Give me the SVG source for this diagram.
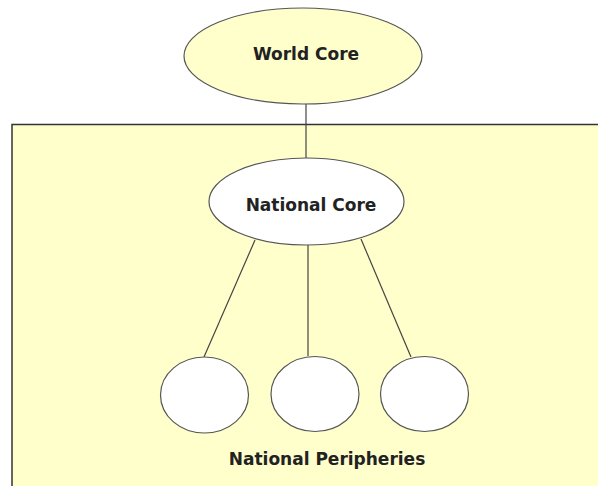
<svg xmlns="http://www.w3.org/2000/svg" width="598" height="486" viewBox="0 0 598 486">
<style>
.n{stroke:#555;stroke-width:1.2}
.w{fill:#fff}
.y{fill:#ffffcc}
.c{stroke:#444;stroke-width:1.2;fill:none}
text{font-family:"DejaVu Sans",Verdana,sans-serif;font-weight:bold;font-size:17px;fill:#222;text-anchor:middle}
</style>
<rect width="598" height="486" fill="#fff"/>
<g id="country">
<rect x="12" y="124.5" width="600" height="380" fill="#ffffcc" stroke="#333" stroke-width="1.5"/>
<text x="327" y="465">National Peripheries</text>
</g>
<g id="connectors">
<line class="c" x1="306" y1="104" x2="306" y2="158"/>
<line class="c" x1="255" y1="240" x2="204" y2="357"/>
<line class="c" x1="308" y1="245" x2="308" y2="356"/>
<line class="c" x1="361" y1="239" x2="411" y2="357"/>
</g>
<g id="world-core">
<ellipse class="n y" cx="303" cy="56" rx="119" ry="48"/>
<text x="306" y="60">World Core</text>
</g>
<g id="national-core">
<ellipse class="n w" cx="306.5" cy="201.5" rx="97.5" ry="43.5"/>
<text x="311" y="211">National Core</text>
</g>
<g id="periphery-1"><ellipse class="n w" cx="204.5" cy="395" rx="44" ry="38"/></g>
<g id="periphery-2"><ellipse class="n w" cx="315" cy="394" rx="44" ry="37.5"/></g>
<g id="periphery-3"><ellipse class="n w" cx="424.5" cy="394" rx="44" ry="37.5"/></g>
</svg>
